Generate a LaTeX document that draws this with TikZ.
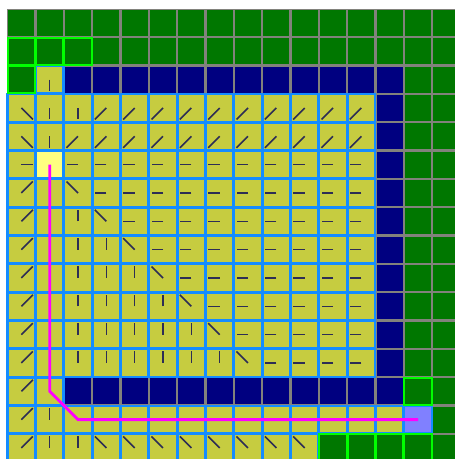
\documentclass[tikz,border=0pt]{standalone}
\definecolor{grn}{RGB}{0,119,0}
\definecolor{brgrn}{RGB}{0,255,0}
\definecolor{gridgray}{RGB}{130,130,124}
\definecolor{navyc}{RGB}{0,0,128}
\definecolor{olivec}{RGB}{198,204,64}
\definecolor{bblue}{RGB}{20,140,255}
\definecolor{startc}{RGB}{255,255,128}
\definecolor{goalc}{RGB}{128,128,255}
\definecolor{magc}{RGB}{255,0,255}
\definecolor{arrc}{RGB}{45,45,85}
\newcommand{\xorig}{7.2}
\newcommand{\yorig}{8.8}
\newcommand{\cpitch}{28.333}
\newcommand{\alen}{11.5}
\newcommand{\cellrect}[4]{%
  \path[#4] ({\xorig+\cpitch*#2+#3},{\yorig+\cpitch*#1+#3}) rectangle ({\xorig+\cpitch*(#2+1)-#3},{\yorig+\cpitch*(#1+1)-#3});}
\newcommand{\plaincell}[3]{\cellrect{#1}{#2}{1.2}{fill=#3}}
\newcommand{\yelcell}[3]{\cellrect{#1}{#2}{1.2}{fill=#3}\cellrect{#1}{#2}{0.3}{draw=bblue,line width=2.4}}
\newcommand{\frontcell}[2]{\cellrect{#1}{#2}{1.2}{fill=grn}\cellrect{#1}{#2}{0.5}{draw=brgrn,line width=2}}
\newcommand{\dirline}[4]{%
  \draw[dirstyle] ({\xorig+\cpitch*(#2+0.5)},{\yorig+\cpitch*(#1+0.5)}) -- ++({\alen*#3},{\alen*#4});}
\begin{document}
\begin{tikzpicture}[x=1pt,y=-1pt,
  dirstyle/.style={draw=arrc,line width=1.6},
  pathstyle/.style={draw=magc,line width=2.8,line cap=square}]
\useasboundingbox (0,0) rectangle (455,459);
\clip (0,0) rectangle (455,459);
\fill[white] (0,0) rectangle (455,459);
\fill[gridgray] (6.7,9.0) rectangle (465,465);
% row 0
\foreach \c in {0,...,15} {\plaincell{0}{\c}{grn}}
% row 1
\foreach \c in {3,...,15} {\plaincell{1}{\c}{grn}}
% row 2
\foreach \c in {2,...,13} {\plaincell{2}{\c}{navyc}}
\foreach \c in {14,15} {\plaincell{2}{\c}{grn}}
% rows 3-12
\foreach \r in {3,...,12} {
  \plaincell{\r}{13}{navyc}
  \plaincell{\r}{14}{grn}
  \plaincell{\r}{15}{grn}
}
% row 13
\foreach \c in {2,...,13} {\plaincell{13}{\c}{navyc}}
\plaincell{13}{15}{grn}
% row 14
\plaincell{14}{15}{grn}
% row 15
\plaincell{15}{15}{grn}
% visited cells
\yelcell{2}{1}{olivec}
\foreach \r in {3,...,12} {\foreach \c in {0,...,12} {\yelcell{\r}{\c}{olivec}}}
\yelcell{5}{1}{startc}
\foreach \c in {0,1} {\yelcell{13}{\c}{olivec}}
\foreach \c in {0,...,13} {\yelcell{14}{\c}{olivec}}
\yelcell{14}{14}{goalc}
\foreach \c in {0,...,10} {\yelcell{15}{\c}{olivec}}
% frontier cells
\foreach \c in {0,1,2} {\frontcell{1}{\c}}
\frontcell{2}{0}
\frontcell{13}{14}
\foreach \c in {11,...,14} {\frontcell{15}{\c}}
% direction marks
\dirline{2}{1}{0}{1}
\dirline{3}{0}{1}{1} \dirline{3}{1}{0}{1} \dirline{3}{2}{0}{1}
\foreach \c in {3,...,12} {\dirline{3}{\c}{-1}{1}}
\dirline{4}{0}{1}{1} \dirline{4}{1}{0}{1}
\foreach \c in {2,...,12} {\dirline{4}{\c}{-1}{1}}
\dirline{5}{0}{1}{0}
\foreach \c in {2,...,12} {\dirline{5}{\c}{-1}{0}}
\dirline{6}{0}{1}{-1} \dirline{6}{1}{0}{-1} \dirline{6}{2}{-1}{-1}
\foreach \c in {3,...,12} {\dirline{6}{\c}{-1}{0}}
\dirline{7}{0}{1}{-1}
\foreach \c in {1,2} {\dirline{7}{\c}{0}{-1}}
\dirline{7}{3}{-1}{-1}
\foreach \c in {4,...,12} {\dirline{7}{\c}{-1}{0}}
\dirline{8}{0}{1}{-1}
\foreach \c in {1,2,3} {\dirline{8}{\c}{0}{-1}}
\dirline{8}{4}{-1}{-1}
\foreach \c in {5,...,12} {\dirline{8}{\c}{-1}{0}}
\dirline{9}{0}{1}{-1}
\foreach \c in {1,...,4} {\dirline{9}{\c}{0}{-1}}
\dirline{9}{5}{-1}{-1}
\foreach \c in {6,...,12} {\dirline{9}{\c}{-1}{0}}
\dirline{10}{0}{1}{-1}
\foreach \c in {1,...,5} {\dirline{10}{\c}{0}{-1}}
\dirline{10}{6}{-1}{-1}
\foreach \c in {7,...,12} {\dirline{10}{\c}{-1}{0}}
\dirline{11}{0}{1}{-1}
\foreach \c in {1,...,6} {\dirline{11}{\c}{0}{-1}}
\dirline{11}{7}{-1}{-1}
\foreach \c in {8,...,12} {\dirline{11}{\c}{-1}{0}}
\dirline{12}{0}{1}{-1}
\foreach \c in {1,...,7} {\dirline{12}{\c}{0}{-1}}
\dirline{12}{8}{-1}{-1}
\foreach \c in {9,...,12} {\dirline{12}{\c}{-1}{0}}
\dirline{13}{0}{1}{-1} \dirline{13}{1}{0}{-1}
\dirline{14}{0}{1}{-1} \dirline{14}{1}{0}{-1} \dirline{14}{2}{-1}{-1}
\foreach \c in {3,...,14} {\dirline{14}{\c}{-1}{0}}
\dirline{15}{0}{1}{-1} \dirline{15}{1}{0}{-1} \dirline{15}{2}{0}{-1}
\foreach \c in {3,...,10} {\dirline{15}{\c}{-1}{-1}}
% path
\coordinate (start) at ({\xorig+\cpitch*1.5},{\yorig+\cpitch*5.5});
\coordinate (bendA) at ({\xorig+\cpitch*1.5},{\yorig+\cpitch*13.5});
\coordinate (bendB) at ({\xorig+\cpitch*2.5},{\yorig+\cpitch*14.5});
\coordinate (goal) at ({\xorig+\cpitch*14.5},{\yorig+\cpitch*14.5});
\draw[pathstyle] (start) -- (bendA) -- (bendB) -- (goal);
\end{tikzpicture}
\end{document}
